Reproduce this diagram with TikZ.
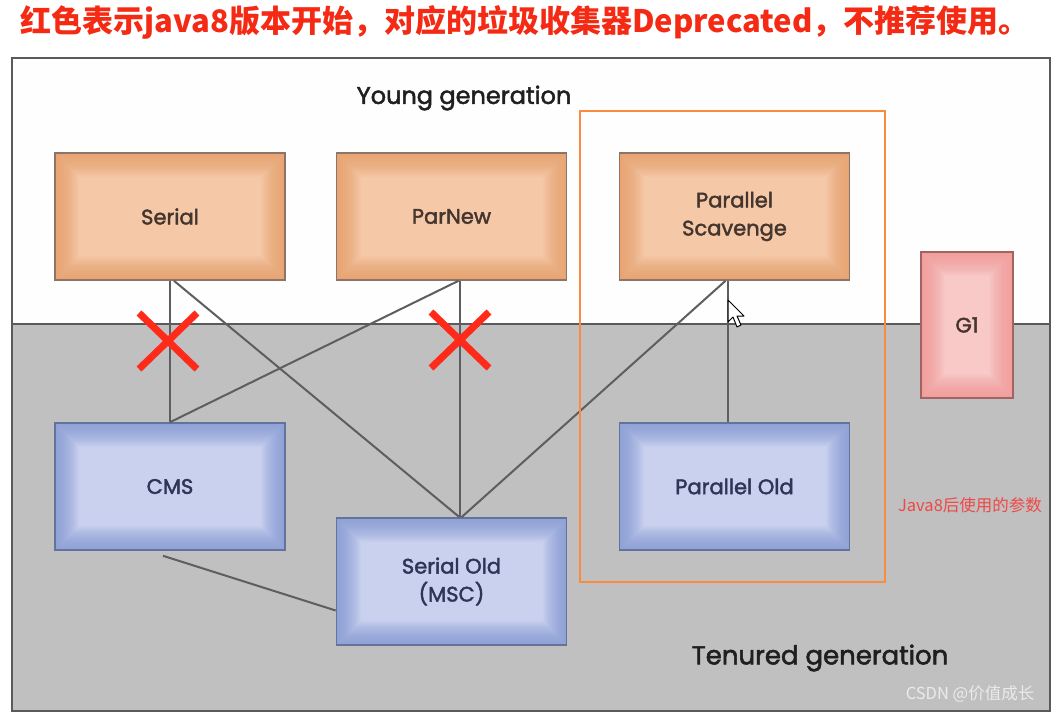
\documentclass[tikz,border=0pt]{standalone}
\usepackage{fontspec}
\setmainfont{Liberation Sans}
\newfontfamily\cjk{Noto Sans CJK SC}
\newfontfamily\lab{Poppins}[FakeBold=2]
\usetikzlibrary{calc}
\definecolor{titlered}{HTML}{F42A14}
\definecolor{xred}{HTML}{FF2A1A}
\definecolor{noter}{HTML}{F04848}
\definecolor{tenured}{HTML}{BFC0BF}
\definecolor{young}{HTML}{FDFEFD}
\definecolor{frameg}{HTML}{5A5A5A}
\definecolor{linec}{HTML}{5E5E62}
\definecolor{oout}{HTML}{E99E68}
\definecolor{oin}{HTML}{F5C8A8}
\definecolor{obord}{HTML}{8C7466}
\definecolor{otext}{HTML}{44362E}
\definecolor{bout}{HTML}{8497D6}
\definecolor{bin}{HTML}{C9D1EF}
\definecolor{bbord}{HTML}{64729E}
\definecolor{btext}{HTML}{2E3556}
\definecolor{gout}{HTML}{F29694}
\definecolor{gin}{HTML}{F9C9C8}
\definecolor{gbord}{HTML}{A06464}
\definecolor{orangeframe}{HTML}{FA8C3C}
\begin{document}
\begin{tikzpicture}[x=1pt,y=-1pt,
  gcbox/.style 2 args={line width=1.6pt, fill=#1, minimum width=230pt, minimum height=127pt,
    align=center, font=\lab\fontsize{21}{28}\selectfont, inner sep=0pt,
    path picture={\foreach \i in {1,...,24}{\draw[#2, line width=2*\i pt, opacity=0.055]
      (path picture bounding box.south west) rectangle (path picture bounding box.north east);}}},
  obox/.style={gcbox={oin}{oout}, draw=obord, text=otext},
  bbox/.style={gcbox={bin}{bout}, draw=bbord, text=btext},
  g1box/.style={gcbox={gin}{gout}, draw=gbord, text=otext,
    minimum width=92pt, minimum height=146pt},
  conn/.style={draw=linec, line width=2pt},
  redx/.style={draw=xred, line width=7pt},
  region/.style={font=\lab\fontsize{24}{28}\selectfont, text=black!88}]
\useasboundingbox (0,0) rectangle (1054,714);
\fill[white] (0,0) rectangle (1054,714);
% generation areas
\fill[young] (12,58) rectangle (1050,324);
\fill[tenured] (12,324) rectangle (1050,711);
\draw[frameg, line width=2.5pt] (12,58) rectangle (1050,711);
\draw[frameg, line width=2.5pt] (12,324) -- (1050,324);
% title
\node (title) at (525,22) {\cjk\bfseries\fontsize{31}{36}\selectfont\color{titlered}红色表示java8版本开始，对应的垃圾收集器Deprecated，不推荐使用。};
% region labels
\node[region] (young) at (464,98) {Young generation};
\node[region, font=\lab\fontsize{26}{30}\selectfont] (tenuredlab) at (820,658) {Tenured generation};
% collectors
\node[obox] (serial) at (170,216.5) {Serial};
\node[obox] (parnew) at (451.5,216.5) {ParNew};
\node[obox] (ps) at (734.5,216.5) {Parallel\\Scavenge};
\node[bbox] (cms) at (170,486.5) {CMS};
\node[bbox] (so) at (451.5,581.5) {Serial Old\\(MSC)};
\node[bbox] (po) at (734.5,486.5) {Parallel Old};
\node[g1box] (g1) at (967,325) {G1};
% connectors
\draw[conn] (serial.south) -- (cms.north);
\draw[conn] ([xshift=4pt]serial.south) -- ([xshift=8pt]so.north);
\draw[conn] ([xshift=7pt]parnew.south) -- (cms.north);
\draw[conn] ([xshift=8pt]parnew.south) -- ([xshift=8pt]so.north);
\draw[conn] ([xshift=-9pt]ps.south) -- ([xshift=10pt]so.north);
\draw[conn] ([xshift=-7pt]ps.south) -- ([xshift=-7pt]po.north);
\draw[conn] ([xshift=-7pt,yshift=-5pt]cms.south) -- ([yshift=-29pt]so.west);
% red crosses
\coordinate (x1) at (168,341);
\coordinate (x2) at (460,340);
\draw[redx] ($(x1)+(-29,-28)$) -- ($(x1)+(29,28)$) ($(x1)+(-29,28)$) -- ($(x1)+(29,-28)$);
\draw[redx] ($(x2)+(-29,-28)$) -- ($(x2)+(29,28)$) ($(x2)+(-29,28)$) -- ($(x2)+(29,-28)$);
% orange highlight
\draw[orangeframe, line width=2.5pt] (580,111) rectangle (885,582);
% mouse pointer
\draw[black, fill=white, line width=1pt, line join=round] (728,300) -- (728,322) -- (733,317) -- (737,327) -- (741,325) -- (737,316) -- (744,316) -- cycle;
% notes
\node[text=noter, font=\cjk\fontsize{16.5}{19}\selectfont] (note) at (970,505) {Java8后使用的参数};
\node[text=white!92!black, font=\cjk\fontsize{16.5}{19}\selectfont] (csdn) at (970,694) {CSDN @价值成长};
\end{tikzpicture}
\end{document}
